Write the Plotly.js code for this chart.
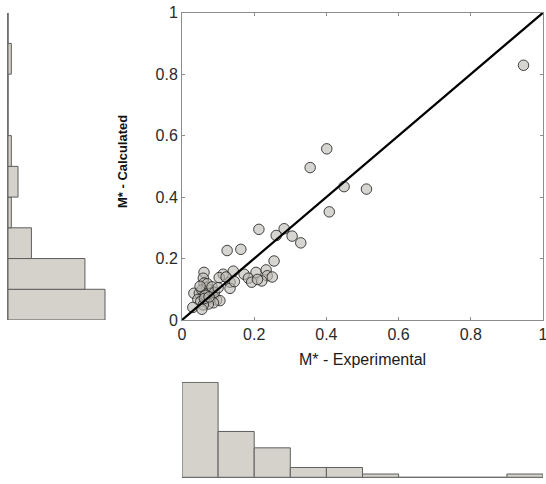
<!DOCTYPE html>
<html>
<head>
<meta charset="utf-8">
<script src="https://cdn.plot.ly/plotly-3.0.1.min.js"></script>
<style>html,body{margin:0;padding:0;background:#fff;}#chart{width:546px;height:484px;}</style>
</head>
<body>
<div id="chart"></div>
<script>
// Scatter data: M* experimental (x) vs calculated (y)
const expM = [0.946,0.401,0.355,0.449,0.511,0.408,0.213,0.283,0.261,0.305,0.329,0.125,0.163,0.255,
  0.142,0.114,0.103,0.172,0.205,0.233,0.236,0.184,0.193,0.221,0.133,0.133,0.250,0.209,0.122,0.145,
  0.061,0.059,0.061,0.068,0.078,0.033,0.048,0.055,0.059,0.073,0.087,0.044,0.052,0.067,0.079,0.096,
  0.105,0.087,0.073,0.059,0.030,0.055,0.065,0.070,0.083,0.090,0.100,0.062,0.075,0.050];
const calcM = [0.829,0.557,0.496,0.434,0.426,0.352,0.295,0.297,0.275,0.273,0.251,0.226,0.230,0.192,
  0.159,0.149,0.138,0.149,0.155,0.163,0.144,0.136,0.123,0.127,0.123,0.103,0.140,0.132,0.140,0.125,
  0.155,0.136,0.120,0.106,0.098,0.087,0.087,0.098,0.076,0.087,0.078,0.067,0.060,0.065,0.069,0.065,
  0.063,0.056,0.052,0.049,0.041,0.035,0.080,0.118,0.108,0.090,0.105,0.070,0.075,0.110];
// Reference line y = x
const refLine = [0, 1];
// Histogram bins (centres, width 0.1) and counts
const binCenters = [0.05,0.15,0.25,0.35,0.45,0.55,0.65,0.75,0.85,0.95];
const countsExp = [29,14,9,3,3,1,0,0,0,1];
const countsCalc = [29,23,7,1,3,1,0,0,1,0];
const tickVals = [0,0.2,0.4,0.6,0.8,1];
const tickText = ['0','0.2','0.4','0.6','0.8','1'];

const barFill = '#d5d2cb';
const barEdge = '#5e5e5e';
const axisGray = '#8c8c8c';
const W = 546, H = 484;
const px = v => v / W, py = v => (H - v) / H;

const traces = [
  {type:'scatter', mode:'markers', x:expM, y:calcM, xaxis:'x', yaxis:'y',
   marker:{size:10.5, color:'rgba(188,185,178,0.6)', line:{color:'rgba(35,35,35,0.85)', width:1}},
   hoverinfo:'skip'},
  {type:'scatter', mode:'lines', x:refLine, y:refLine, xaxis:'x', yaxis:'y',
   line:{color:'#000', width:2.2}, hoverinfo:'skip'},
  {type:'bar', orientation:'h', y:binCenters, x:countsCalc, width:0.1, xaxis:'x2', yaxis:'y2',
   marker:{color:barFill, line:{color:barEdge, width:1}}, hoverinfo:'skip'},
  {type:'bar', x:binCenters, y:countsExp, width:0.1, xaxis:'x3', yaxis:'y3',
   marker:{color:barFill, line:{color:barEdge, width:1}}, hoverinfo:'skip'}
];

const tickFont = {family:'Liberation Sans, Arial, sans-serif', size:16, color:'#2a2a2a'};
const mainAxis = {
  range:[0,1], tickmode:'array', tickvals:tickVals, ticktext:tickText,
  showline:true, linecolor:axisGray, linewidth:1, mirror:'ticks',
  ticks:'inside', ticklen:3, tickcolor:axisGray, tickwidth:1,
  showgrid:false, zeroline:false, tickfont:tickFont, ticklabeloverflow:'allow'
};

const layout = {
  width:W, height:H, margin:{l:0,r:0,t:0,b:0},
  paper_bgcolor:'#fff', plot_bgcolor:'rgba(0,0,0,0)', showlegend:false,
  bargap:0,
  xaxis: Object.assign({}, mainAxis, {domain:[px(182), px(543)], anchor:'y'}),
  yaxis: Object.assign({}, mainAxis, {domain:[py(320), py(12.7)], anchor:'x'}),
  xaxis2:{domain:[px(8), px(106)], range:[0,29.3], anchor:'y2', visible:false, fixedrange:true},
  yaxis2:{domain:[py(320), py(12.7)], range:[0,1], anchor:'x2', showline:true, linecolor:'#6e6e6e',
          linewidth:1, showticklabels:false, ticks:'', showgrid:false, zeroline:false},
  xaxis3:{domain:[px(182), px(543)], range:[0,1], anchor:'y3', showline:true, linecolor:'#6e6e6e',
          linewidth:1, showticklabels:false, ticks:'', showgrid:false, zeroline:false},
  yaxis3:{domain:[py(477.3), py(381.7)], range:[0,29.2], anchor:'x3', visible:false},
  annotations:[
    {text:'M* - Experimental', xref:'paper', yref:'paper', x:px(362), y:py(359),
     xanchor:'center', yanchor:'middle', showarrow:false,
     font:{family:'Liberation Sans, Arial, sans-serif', size:16, color:'#1a1a1a'}},
    {text:'<b>M* - Calculated</b>', xref:'paper', yref:'paper', x:px(122), y:py(162),
     xanchor:'center', yanchor:'middle', showarrow:false, textangle:-90,
     font:{family:'Liberation Sans, Arial, sans-serif', size:13, color:'#111'}}
  ]
};

Plotly.newPlot('chart', traces, layout, {staticPlot:true, displayModeBar:false});
</script>
</body>
</html>
